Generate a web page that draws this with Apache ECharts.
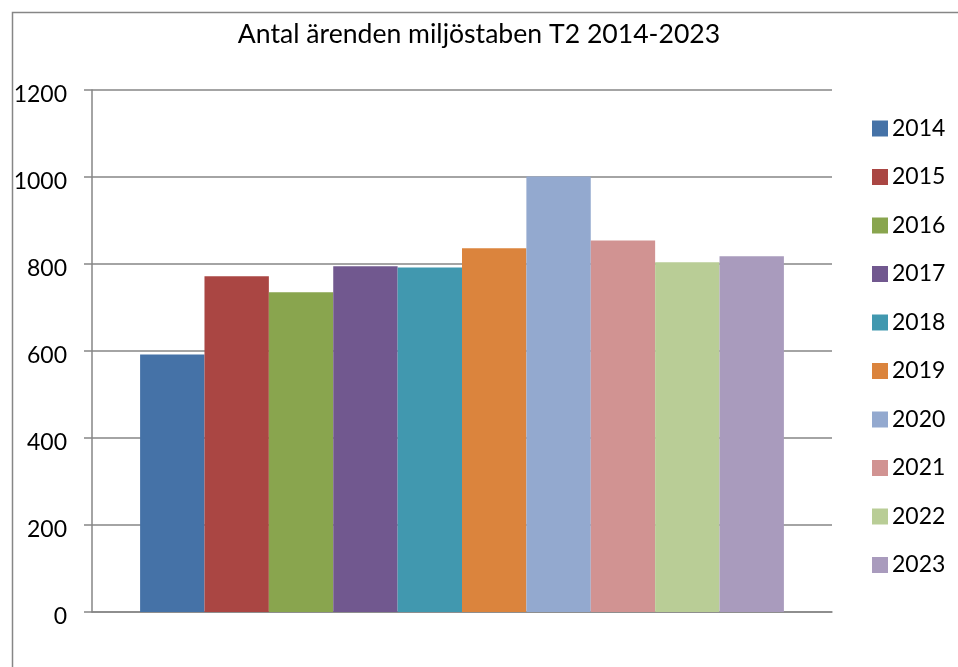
<!DOCTYPE html>
<html>
<head>
<meta charset="utf-8">
<script src="https://cdn.jsdelivr.net/npm/echarts@6/dist/echarts.min.js"></script>
<style>html,body{margin:0;padding:0;background:#fff}#c{width:958px;height:667px}</style>
</head>
<body>
<div id="c"></div>
<script>
const years = ['2014','2015','2016','2017','2018','2019','2020','2021','2022','2023'];
const values = [592, 772, 735, 795, 792, 836, 1001, 854, 804, 818];
const colors = ['#4572A7','#AA4643','#89A54E','#71588F','#4198AF','#DB843D','#93A9CF','#D19392','#B9CD96','#A99BBD'];
const categories = [''];
const titleText = 'Antal ärenden miljöstaben T2 2014-2023';

const FONT = 'Lato';
const chart = echarts.init(document.getElementById('c'), null, {renderer:'canvas'});
chart.setOption({
  animation: false,
  backgroundColor: '#fff',
  title: {
    text: titleText, left: 'center', top: 16,
    textStyle: {fontFamily: FONT, fontSize: 26.6, fontWeight: 'normal', color: '#000'}
  },
  graphic: [{
    type: 'rect', left: 10, top: 10, silent: true,
    shape: {width: 1000, height: 700},
    style: {fill: 'none', stroke: '#868686', lineWidth: 1.5}
  }],
  legend: {
    orient: 'vertical', left: 867, top: 112,
    itemWidth: 16, itemHeight: 16, itemGap: 25.5,
    icon: 'rect',
    textStyle: {fontFamily: FONT, fontSize: 23, color: '#000', padding: [0,0,0,-1]},
    data: years
  },
  grid: {left: 92, right: 126, top: 90, bottom: 55, containLabel: false},
  xAxis: {
    type: 'category', data: categories,
    axisLine: {show: true, lineStyle: {color: '#868686', width: 1.5}},
    axisTick: {show: false}, axisLabel: {show: false}
  },
  yAxis: {
    type: 'value', min: 0, max: 1200, interval: 200,
    axisLine: {show: true, lineStyle: {color: '#868686', width: 1.5}},
    axisTick: {show: true, length: 8, lineStyle: {color: '#868686', width: 1.5}},
    axisLabel: {
      margin: 25,
      formatter: v => '{a|' + v + '}',
      rich: {a: {fontFamily: FONT, fontSize: 23, color: '#000', padding: [9,0,0,0]}}
    },
    splitLine: {show: true, lineStyle: {color: '#868686', width: 1.5}}
  },
  series: years.map((y, i) => ({
    name: y, type: 'bar', data: [values[i]],
    barGap: '0%', barCategoryGap: '13%',
    itemStyle: {color: colors[i]}
  }))
});
</script>
</body>
</html>
